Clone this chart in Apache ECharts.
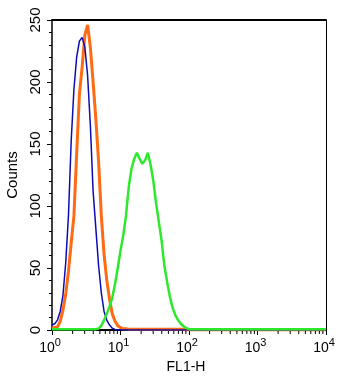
<!DOCTYPE html>
<html>
<head>
<meta charset="utf-8">
<script src="https://cdn.jsdelivr.net/npm/echarts@6/dist/echarts.min.js"></script>
<style>
html,body{margin:0;padding:0;background:#fff;}
#c{width:348px;height:391px;}
</style>
</head>
<body>
<div id="c"></div>
<script>
// FL1-H channel values (log scale)
const fl1 = [1, 1.096, 1.202, 1.318, 1.445, 1.585, 1.738, 1.905, 2.089, 2.291,
  2.512, 2.754, 3.020, 3.311, 3.631, 3.981, 4.365, 4.786, 5.248, 5.754,
  6.310, 6.918, 7.586, 8.318, 9.120, 10.00, 10.96, 12.02, 13.18, 14.45,
  15.85, 17.38, 19.05, 20.89, 22.91, 25.12, 27.54, 30.20, 33.11, 36.31,
  39.81, 43.65, 47.86, 52.48, 57.54, 63.10, 69.18, 75.86, 83.18, 91.20,
  100.0, 109.6, 10000];
// Counts, blue (isotype / control)
const blueCounts = [4, 5, 8, 15, 28, 54, 92, 152, 194, 220,
  233, 236, 228, 205, 165, 112, 82, 52, 30, 15,
  8, 4, 1.5, 0.5, 0, 0, 0, 0, 0, 0,
  0, 0, 0, 0, 0, 0, 0, 0, 0, 0,
  0, 0, 0, 0, 0, 0, 0, 0, 0, 0,
  0, 0, 0];
// Counts, orange (unstained)
const orangeCounts = [1.5, 2, 2.5, 7, 16, 29, 47, 70, 92, 142,
  190, 212, 238, 246, 228, 200, 170, 136, 92, 61,
  40, 25, 13, 7, 3.5, 2, 1, 1, 0.7, 0.7,
  0.7, 0.7, 0.7, 0.7, 0.7, 0.7, 0.7, 0.7, 0.7, 0.7,
  0.7, 0.7, 0.7, 0.7, 0.7, 0.7, 0.7, 0.7, 0.7, 0,
  0, 0, 0];
// Counts, green (antibody stained)
const greenCounts = [0.7, 0.7, 0.7, 0.7, 0.7, 0.7, 0.7, 0.7, 0.7, 0.7,
  0.7, 0.7, 0.7, 0.7, 0.7, 0.7, 0.7, 1.2, 3.5, 8,
  13, 19, 26, 37, 50, 64, 76, 92, 115, 130,
  138, 143, 138, 134, 137, 143, 133, 120, 102, 87,
  72, 52, 39, 27, 18, 12, 8, 5, 3, 1.5,
  0.7, 0.7, 0.7];
// Minor tick positions on the log axis
const minorTicks = [2,3,4,5,6,7,8,9, 20,30,40,50,60,70,80,90,
  200,300,400,500,600,700,800,900, 2000,3000,4000,5000,6000,7000,8000,9000];
const xName = 'FL1-H';
const yName = 'Counts';

function pairs(ys) { return fl1.map((x, i) => [x, ys[i]]); }

const chart = echarts.init(document.getElementById('c'), null, {renderer: 'canvas'});
const font = 'Liberation Sans, Arial, Helvetica, sans-serif';
chart.setOption({
  animation: false,
  backgroundColor: '#fff',
  grid: {left: 52, right: 22, top: 20, bottom: 61, containLabel: false, outerBoundsMode: 'none'},
  xAxis: [{
    type: 'log', logBase: 10, min: 1, max: 10000, interval: 1,
    name: xName, nameLocation: 'middle', nameGap: 27,
    nameTextStyle: {fontSize: 14, color: '#000', fontFamily: font, padding: [0, 6, 0, 0]},
    axisLine: {show: true, onZero: false, lineStyle: {color: '#000', width: 2}},
    axisTick: {show: true, length: 5, lineStyle: {color: '#000', width: 1}},
    minorTick: {show: false},
    splitLine: {show: false},
    axisLabel: {
      margin: 7, color: '#000', fontFamily: font, padding: [0, 4, 0, 0],
      formatter: v => '{b|10}{s|' + Math.round(Math.log10(v)) + '}',
      rich: {
        b: {fontSize: 14, fontFamily: font, color: '#000', lineHeight: 18, verticalAlign: 'bottom'},
        s: {fontSize: 11, fontFamily: font, color: '#000', lineHeight: 18, verticalAlign: 'top'}
      }
    }
  }, {
    type: 'value', position: 'top', min: 0, max: 1,
    axisLine: {show: true, onZero: false, lineStyle: {color: '#000', width: 2}},
    axisTick: {show: false}, axisLabel: {show: false}, splitLine: {show: false}
  }],
  yAxis: [{
    type: 'value', min: 0, max: 250, interval: 50,
    name: yName, nameLocation: 'middle', nameGap: 25, nameRotate: 90,
    nameTextStyle: {fontSize: 15, color: '#000', fontFamily: font},
    axisLine: {show: true, onZero: false, lineStyle: {color: '#000', width: 1.5}},
    axisTick: {show: true, length: 5, lineStyle: {color: '#000', width: 1}},
    minorTick: {show: true, splitNumber: 5, length: 3, lineStyle: {color: '#000', width: 1}},
    splitLine: {show: false},
    axisLabel: {rotate: 90, margin: 9, fontSize: 15, color: '#000', fontFamily: font}
  }, {
    type: 'value', position: 'right', min: 0, max: 1,
    axisLine: {show: true, onZero: false, lineStyle: {color: '#000', width: 1}},
    axisTick: {show: false}, axisLabel: {show: false}, splitLine: {show: false}
  }],
  series: [{
    type: 'line', name: 'orange', data: pairs(orangeCounts),
    showSymbol: false, z: 2,
    lineStyle: {color: '#ff6a14', width: 3}
  }, {
    type: 'line', name: 'blue', data: pairs(blueCounts),
    showSymbol: false, z: 3,
    lineStyle: {color: '#0c0cb4', width: 1.5}
  }, {
    type: 'line', name: 'green', data: pairs(greenCounts),
    showSymbol: false, z: 4,
    lineStyle: {color: '#2ee82e', width: 2.5}
  }, {
    type: 'custom', name: 'minorTicks', data: minorTicks.map(v => [v, 0]),
    clip: false, silent: true, z: 5,
    renderItem: function (params, api) {
      const p = api.coord([api.value(0), 0]);
      return {type: 'line', shape: {x1: p[0], y1: p[1] + 1, x2: p[0], y2: p[1] + 4},
        style: {stroke: '#000', lineWidth: 1}};
    }
  }]
});
</script>
</body>
</html>
